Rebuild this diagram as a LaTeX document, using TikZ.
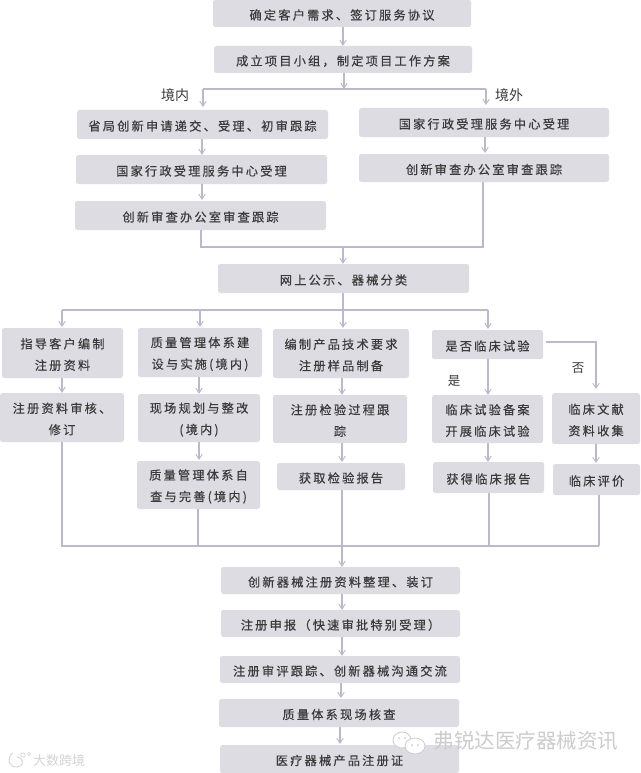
\documentclass[tikz,border=0pt]{standalone}
\usepackage{fontspec}
\usetikzlibrary{arrows.meta}
\newfontfamily\cjkb[LetterSpace=18,FakeBold=0.35]{Noto Sans CJK SC}
\newfontfamily\cjkw{Noto Sans CJK SC}
\definecolor{boxc}{HTML}{DDDCE3}
\definecolor{linec}{HTML}{BBBACA}
\definecolor{txtc}{HTML}{3A3A3A}
\definecolor{wm}{HTML}{CCCCCC}
\tikzset{
  bx/.style={draw=none,fill=boxc,rounded corners=2.5pt,inner sep=0pt},
  bxt/.style={text=txtc,inner sep=0pt,align=center,font=\cjkb\fontsize{12.2}{21.5}\selectfont},
  ln/.style={draw=linec,line width=1.1pt},
  ar/.style={ln,-{Straight Barb[length=5pt,width=6.5pt,line width=0.9pt]}},
  lab/.style={text=txtc,inner sep=0pt,font=\cjkw\fontsize{12.5}{14}\selectfont},
  wmb/.style={draw=wm,fill=white,line width=0.8pt}
}
\newcommand{\bxn}[6]{\node[bx,minimum width=#4pt-#2pt,minimum height=#5pt-#3pt] (#1) at ({(#2+#4)/2},{(#3+#5)/2}) {};
\node[bxt] (#1t) at ([yshift=-1.5pt]#1.center) {#6};}
\begin{document}
\begin{tikzpicture}[x=1pt,y=-1pt]
\useasboundingbox (0,0) rectangle (640,773);
\fill[white] (0,0) rectangle (640,773);
\bxn{a}{213}{0}{471}{27}{确定客户需求、签订服务协议}
\bxn{b}{214}{46}{472}{73}{成立项目小组，制定项目工作方案}
\bxn{l1}{77}{110}{328}{139}{省局创新申请递交、受理、初审跟踪}
\bxn{l2}{76}{155}{327}{184}{国家行政受理服务中心受理}
\bxn{l3}{75}{201}{326}{230}{创新审查办公室审查跟踪}
\bxn{r1}{359}{108}{609}{137}{国家行政受理服务中心受理}
\bxn{r2}{359}{154}{609}{182}{创新审查办公室审查跟踪}
\bxn{c}{218}{264}{469}{293}{网上公示、器械分类}
\bxn{A1}{2}{328}{123}{378}{指导客户编制\\注册资料}
\bxn{A2}{0}{393}{124}{442}{注册资料审核、\\修订}
\bxn{B1}{138}{328}{262}{377}{质量管理体系建\\设与实施(境内)}
\bxn{B2}{138}{394}{260}{442}{现场规划与整改\\(境内)}
\bxn{B3}{137}{461}{260}{509}{质量管理体系自\\查与完善(境内)}
\bxn{C1}{273}{329}{409}{378}{编制产品技术要求\\注册样品制备}
\bxn{C2}{273}{395}{407}{443}{注册检验过程跟\\踪}
\bxn{C3}{277}{463}{405}{490}{获取检验报告}
\bxn{D1}{432}{330}{543}{359}{是否临床试验}
\bxn{D2}{432}{395}{543}{443}{临床试验备案\\开展临床试验}
\bxn{D3}{433}{462}{544}{493}{获得临床报告}
\bxn{E1}{552}{393}{640}{444}{临床文献\\资料收集}
\bxn{E2}{553}{464}{640}{495}{临床评价}
\bxn{F1}{221}{567}{460}{594}{创新器械注册资料整理、装订}
\bxn{F2}{221}{610}{460}{637}{注册申报（快速审批特别受理）}
\bxn{F3}{220}{656}{460}{683}{注册审评跟踪、创新器械沟通交流}
\bxn{F4}{219}{699}{459}{727}{质量体系现场核查}
\bxn{F5}{220}{745}{459}{773}{医疗器械产品注册证}
\node[lab,font=\cjkw\fontsize{14}{15}\selectfont] (jn) at (175,95) {境内};
\node[lab,font=\cjkw\fontsize{14}{15}\selectfont] (jw) at (509,95) {境外};
\node[lab] (fou) at (578,368) {否};
\node[lab] (shi) at (454,381) {是};
% top
\draw[ar] (a.south -| 343,0) -- (b.north -| 343,0);
\coordinate (t1) at (344,89);
\draw[ar] (b.south -| t1) -- (t1);
\coordinate (tl) at (203,89);
\coordinate (tr) at (486,89);
\draw[ln] (tl) -- (tr);
\draw[ar] (tl) -- (203,107);
\draw[ar] (tr) -- (486,105);
\draw[ar] (l1.south -| 202,0) -- (l2.north -| 202,0);
\draw[ar] (l2.south -| 202,0) -- (202,200);
\draw[ar] (r1.south -| 485,0) -- (485,153);
\coordinate (ml) at (201,247);
\coordinate (mr) at (483,247);
\draw[ln] (l3.south -| ml) -- (ml) -- (mr) -- (r2.south -| mr);
\draw[ar] (343,247) -- (c.north -| 343,0);
% middle
\draw[ln] (c.south -| 343,0) -- (343,310);
\draw[ln] (62,310) -- (488,310);
\draw[ar] (62,310) -- (62,327);
\draw[ar] (200,310) -- (200,327);
\draw[ar] (343,310) -- (343,328);
\draw[ar] (488,310) -- (488,329);
\draw[ar] (A1.south -| 62,0) -- (A2.north -| 62,0);
\draw[ar] (B1.south -| 199,0) -- (B2.north -| 199,0);
\draw[ar] (B2.south -| 199,0) -- (199,460);
\draw[ar] (C1.south -| 342,0) -- (C2.north -| 342,0);
\draw[ar] (C2.south -| 342,0) -- (342,462);
\draw[ar] (D1.south -| 488,0) -- (D2.north -| 488,0);
\draw[ar] (D2.south -| 488,0) -- (D3.north -| 488,0);
\draw[ar] (546,342) -- (596,342) -- (596,389);
\draw[ar] (E1.south -| 596,0) -- (596,463);
% bottom merge
\draw[ln] (61,546) -- (599,546);
\draw[ln] (A2.south -| 62,0) -- (62,546);
\draw[ln] (B3.south -| 198,0) -- (198,546);
\draw[ln] (D3.south -| 489,0) -- (489,546);
\draw[ln] (E2.south -| 599,0) -- (599,546);
\draw[ar] (C3.south -| 342,0) -- (F1.north -| 342,0);
\draw[ar] (F1.south -| 342,0) -- (F2.north -| 342,0);
\draw[ar] (F2.south -| 342,0) -- (F3.north -| 342,0);
\draw[ar] (F3.south -| 341,0) -- (341,698);
\draw[ar] (F4.south -| 340,0) -- (340,744);
% watermarks
\draw[wmb] (402,740) ellipse (9 and 8);
\fill[wm] (399,738) circle (1) (405,738) circle (1);
\draw[wmb] (415,746) ellipse (10 and 8);
\fill[wm] (412,745) circle (1) (418,745) circle (1);
\node[text=wm,inner sep=0pt,font=\cjkw\fontsize{20.5}{22}\selectfont] (wt) at (526,741) {弗锐达医疗器械资讯};
\draw[draw=black!15,line width=1pt] (13,753) .. controls (6,758) and (9,768) .. (17,767) .. controls (25,766) and (24,758) .. (17,757);
\draw[draw=black!15,line width=0.8pt] (23,755) circle (2.2) (29,754) circle (1.6);
\node[text=black!17,inner sep=0pt,font=\cjkw\fontsize{13}{14}\selectfont] (ws) at (59,761) {大数跨境};
\end{tikzpicture}
\end{document}
